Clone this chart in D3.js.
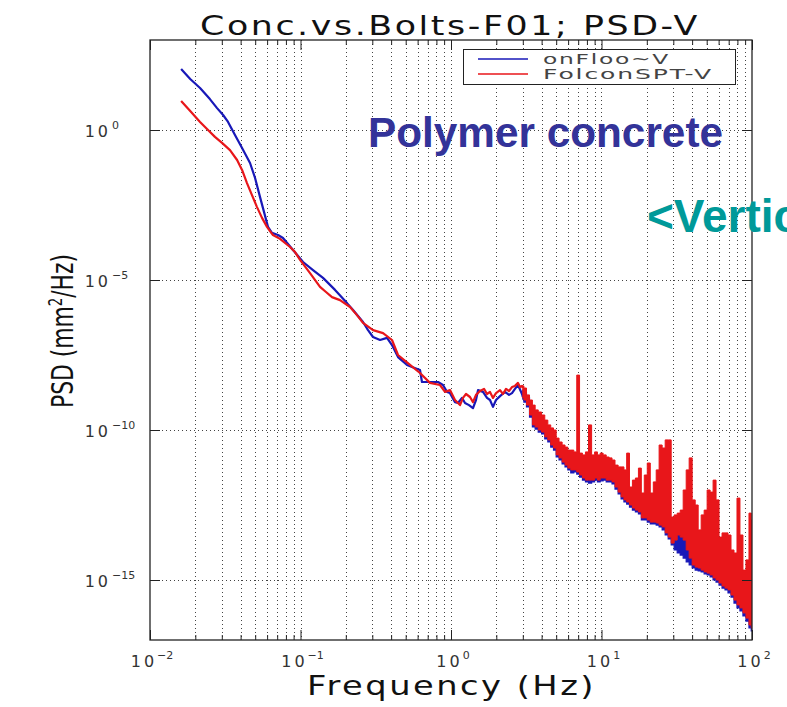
<!DOCTYPE html>
<html><head><meta charset="utf-8">
<script src="https://cdn.jsdelivr.net/npm/d3@7"></script>
<style>body{margin:0;background:#fff;} svg{display:block}</style>
</head><body>
<svg id="chart" width="787" height="707"></svg>
<script>
const titleText = "Conc.vs.Bolts-F01; PSD-V";
const xLabelText = "Frequency (Hz)";
const seriesNames = ["onFloo~V", "FolconSPT-V"];
const seriesColors = ["#1818b8", "#e8161a"];
const xTickExps = [-2, -1, 0, 1, 2];
const yTickExps = [0, -5, -10, -15];

// smooth low-frequency part (Hz, log10 PSD)
const blueFreq = [0.0161,0.0185,0.0215,0.0250,0.0279,0.0306,0.0330,0.0367,0.0409,0.0462,0.0499,0.0538,0.0572,0.0608,0.0646,0.0709,0.0765,0.0826,0.0892,0.0963,0.1040,0.1211,0.1411,0.1696,0.2038,0.2234,0.2602,0.2810,0.3033,0.3376,0.3757,0.4055,0.4446,0.5103,0.5508,0.6223,0.6414,0.7250,0.8197,0.8848,0.9406,0.9848,1.063,1.113,1.183,1.239,1.317,1.400,1.466,1.512,1.632,1.735,1.816,1.901,1.991,2.117,2.285,2.429,2.543,2.662,2.788,2.963,3.0];
const bluePsdExp = [2.03,1.70,1.40,1.03,0.73,0.50,0.27,-0.17,-0.60,-1.10,-1.60,-2.23,-2.73,-3.23,-3.43,-3.50,-3.60,-3.80,-4.00,-4.20,-4.40,-4.67,-4.93,-5.33,-5.77,-6.00,-6.40,-6.67,-6.90,-7.00,-6.93,-7.17,-7.57,-7.83,-7.90,-8.00,-8.40,-8.40,-8.40,-8.50,-8.73,-8.77,-9.07,-9.10,-8.93,-9.10,-9.17,-9.27,-9.00,-8.67,-8.73,-8.93,-9.00,-9.23,-9.00,-8.87,-8.73,-8.83,-8.77,-8.63,-8.50,-8.80,-8.90];
const redFreq = [0.0161,0.0185,0.0215,0.0243,0.0270,0.0301,0.0340,0.0379,0.0409,0.0441,0.0476,0.0514,0.0555,0.0599,0.0627,0.0656,0.0731,0.0852,0.0920,0.0993,0.1157,0.1348,0.1477,0.1619,0.1830,0.2134,0.2373,0.2602,0.3033,0.3535,0.4055,0.4446,0.5343,0.6223,0.7250,0.8450,0.9123,0.9848,1.063,1.148,1.201,1.258,1.337,1.400,1.466,1.559,1.657,1.735,1.816,1.901,1.991,2.117,2.216,2.320,2.429,2.543,2.662,2.788,2.873,2.963,3.0];
const redPsdExp = [0.97,0.63,0.27,0,-0.23,-0.43,-0.67,-1.00,-1.33,-1.77,-2.17,-2.57,-2.93,-3.23,-3.37,-3.50,-3.63,-3.90,-4.07,-4.33,-4.77,-5.23,-5.40,-5.57,-5.67,-5.90,-6.17,-6.43,-6.67,-6.77,-7.00,-7.50,-7.83,-8.10,-8.43,-8.50,-8.73,-8.67,-9.00,-9.17,-8.93,-8.80,-8.90,-9.07,-8.83,-8.70,-8.63,-8.80,-8.73,-8.93,-8.77,-8.67,-8.80,-8.63,-8.70,-8.57,-8.53,-8.43,-8.57,-8.53,-8.60];

// dense, noisy high-frequency part: min/max envelope per frequency bin (log10 PSD)
const bandFreq = [3.0,3.1,3.25,3.4,3.55,3.7,3.9,4.1,4.3,4.5,4.7,4.9,5.1,5.35,5.6,5.85,6.1,6.4,6.7,7.0,7.3,7.65,8.0,8.4,8.8,9.2,9.6,10,10.5,11,11.5,12,12.6,13.2,13.8,14.4,15,15.7,16.4,17.2,18,18.8,19.7,20.6,21.6,22.6,23.6,24.7,25.9,27.1,28.4,29.7,31.1,32.6,34.1,35.7,37.4,39.1,41,42.9,44.9,47,49.2,51.5,53.9,56.4,59,61.8,64.7,67.7,70.9,74.2,77.7,81.3,85.1,89.1,93.3,97.7,100];
const redBandHiExp = [-8.53,-8.60,-8.83,-9.00,-9.17,-9.33,-9.40,-9.50,-9.67,-9.83,
 -9.93,-10.00,-10.27,-10.40,-10.50,-10.57,-10.67,-10.67,-10.73,-8.17,
 -10.77,-10.83,-10.73,-9.83,-10.83,-10.73,-10.83,-10.77,-10.83,-10.90,
 -10.93,-11.00,-11.17,-11.23,-11.23,-11.33,-10.77,-11.90,-11.67,-11.60,
 -11.27,-12.10,-11.50,-11.10,-12.10,-11.73,-11.33,-10.50,-10.60,-10.33,
 -10.33,-12.90,-12.83,-12.77,-12.67,-12.00,-11.33,-10.93,-12.33,-12.50,
 -13.33,-12.83,-12.67,-12.00,-12.07,-11.67,-12.33,-13.57,-13.43,-13.43,
 -13.50,-14.00,-14.10,-12.27,-13.50,-14.67,-14.33,-12.77,-13.00];
const redBandLoExp = [-8.93,-9.00,-9.17,-9.50,-9.83,-9.90,-10.00,-10.07,-10.23,-10.33,
 -10.50,-10.60,-10.83,-10.93,-11.07,-11.17,-11.27,-11.33,-11.33,-11.40,
 -11.50,-11.60,-11.67,-11.67,-11.67,-11.60,-11.67,-11.60,-11.60,-11.67,
 -11.67,-11.73,-11.90,-12.07,-12.23,-12.33,-12.40,-12.50,-12.60,-12.67,
 -12.73,-12.93,-12.93,-13.00,-13.07,-13.07,-13.10,-13.17,-13.23,-13.43,
 -13.57,-13.77,-13.67,-13.50,-13.57,-13.67,-14.00,-14.27,-14.50,-14.57,
 -14.60,-14.67,-14.73,-14.77,-14.83,-14.93,-15.00,-15.10,-15.20,-15.27,
 -15.33,-15.50,-15.67,-15.83,-15.93,-16.10,-16.27,-16.50,-16.60];
const blueBandHiExp = [-8.67,-8.77,-8.93,-9.27,-9.60,-9.67,-9.77,-9.83,-10.00,-10.10,
 -10.27,-10.37,-10.60,-10.70,-10.83,-10.93,-11.03,-11.13,-11.10,-11.17,
 -11.27,-11.37,-11.43,-11.47,-11.43,-11.37,-11.43,-11.40,-11.37,-11.43,
 -11.43,-11.50,-11.67,-11.83,-12.00,-12.10,-12.17,-12.27,-12.37,-12.43,
 -12.50,-12.70,-12.70,-12.77,-12.83,-12.83,-12.87,-12.93,-13.03,-13.20,
 -13.33,-13.53,-13.47,-13.43,-13.50,-13.57,-13.73,-13.97,-14.30,-14.37,
 -14.40,-14.43,-14.50,-14.53,-14.60,-14.70,-14.77,-14.87,-14.97,-15.03,
 -15.13,-15.27,-15.47,-15.63,-15.73,-15.90,-16.07,-16.30,-16.40];
const blueBandLoExp = [-8.97,-9.07,-9.23,-9.57,-9.90,-9.97,-10.07,-10.13,-10.30,-10.40,
 -10.57,-10.67,-10.90,-11.00,-11.13,-11.23,-11.33,-11.43,-11.40,-11.47,
 -11.57,-11.67,-11.73,-11.77,-11.73,-11.67,-11.73,-11.70,-11.67,-11.73,
 -11.73,-11.80,-11.97,-12.13,-12.30,-12.40,-12.47,-12.57,-12.67,-12.73,
 -12.80,-13.00,-13.00,-13.07,-13.13,-13.13,-13.17,-13.23,-13.33,-13.50,
 -13.63,-13.83,-14.00,-14.10,-14.17,-14.27,-14.40,-14.50,-14.60,-14.67,
 -14.70,-14.73,-14.80,-14.83,-14.90,-15.00,-15.07,-15.17,-15.27,-15.33,
 -15.43,-15.57,-15.77,-15.93,-16.03,-16.20,-16.37,-16.60,-16.70];

const svg = d3.select("#chart");
const L = 150, R = 752, T = 40, B = 640;
const x = d3.scaleLog().domain([1e-2, 1e2]).range([L, R]);
const y = d3.scaleLog().domain([1e-17, 1e3]).range([B, T]);
const P = e => Math.pow(10, e);

svg.append("rect").attr("width", 787).attr("height", 707).attr("fill", "#fff");

// grid
const gridX = x.ticks().filter(v => v > 1e-2 * 1.001 && v < 1e2 * 0.999);
svg.append("g").selectAll("line").data(gridX).join("line")
  .attr("x1", d => Math.round(x(d)) + 0.5).attr("x2", d => Math.round(x(d)) + 0.5)
  .attr("y1", T).attr("y2", B)
  .attr("stroke", "#444").attr("stroke-width", 1).attr("stroke-dasharray", "1,3");
svg.append("g").selectAll("line").data(yTickExps).join("line")
  .attr("x1", L).attr("x2", R)
  .attr("y1", d => Math.round(y(P(d))) + 0.5).attr("y2", d => Math.round(y(P(d))) + 0.5)
  .attr("stroke", "#444").attr("stroke-width", 1).attr("stroke-dasharray", "1,3");

// data
svg.append("defs").append("clipPath").attr("id", "clip")
  .append("rect").attr("x", L).attr("y", T).attr("width", R - L).attr("height", B - T);
const plot = svg.append("g").attr("clip-path", "url(#clip)");

const line = d3.line().x(d => x(d[0])).y(d => y(P(d[1])));
const area = d3.area().curve(d3.curveStep)
  .x(d => x(d[0])).y0(d => y(P(d[1]))).y1(d => y(P(d[2])));

const blueLine = blueFreq.map((f, i) => [f, bluePsdExp[i]]);
const redLine = redFreq.map((f, i) => [f, redPsdExp[i]]);
const blueBand = bandFreq.map((f, i) => [f, blueBandLoExp[i], blueBandHiExp[i]]);
const redBand = bandFreq.map((f, i) => [f, redBandLoExp[i], redBandHiExp[i]]);

plot.append("path").datum(blueLine).attr("d", line)
  .attr("fill", "none").attr("stroke", seriesColors[0]).attr("stroke-width", 2.2).attr("stroke-linejoin", "round");
plot.append("path").datum(blueBand).attr("d", area)
  .attr("fill", seriesColors[0]).attr("stroke", seriesColors[0]).attr("stroke-width", 1.2);
plot.append("path").datum(redLine).attr("d", line)
  .attr("fill", "none").attr("stroke", seriesColors[1]).attr("stroke-width", 2.2).attr("stroke-linejoin", "round");
plot.append("path").datum(redBand).attr("d", area)
  .attr("fill", seriesColors[1]).attr("stroke", seriesColors[1]).attr("stroke-width", 1);

// axes / ticks
const majorX = xTickExps.map(P);
const minorX = gridX.filter(v => !majorX.some(m => Math.abs(m - v) / v < 1e-6));
const axisColor = "#222";
function tickStyle(g) { g.select(".domain").remove(); g.selectAll("line").attr("stroke", axisColor); g.selectAll("text").remove(); }
svg.append("g").attr("transform", `translate(0,${B})`)
  .call(d3.axisBottom(x).tickValues(majorX).tickSizeInner(-10).tickSizeOuter(0)).call(tickStyle);
svg.append("g").attr("transform", `translate(0,${B})`)
  .call(d3.axisBottom(x).tickValues(minorX).tickSizeInner(-5).tickSizeOuter(0)).call(tickStyle);
svg.append("g").attr("transform", `translate(0,${T})`)
  .call(d3.axisTop(x).tickValues(majorX).tickSizeInner(-10).tickSizeOuter(0)).call(tickStyle);
svg.append("g").attr("transform", `translate(0,${T})`)
  .call(d3.axisTop(x).tickValues(minorX).tickSizeInner(-5).tickSizeOuter(0)).call(tickStyle);
svg.append("g").attr("transform", `translate(${L},0)`)
  .call(d3.axisLeft(y).tickValues(yTickExps.map(P)).tickSizeInner(-10).tickSizeOuter(0)).call(tickStyle);
svg.append("g").attr("transform", `translate(${R},0)`)
  .call(d3.axisRight(y).tickValues(yTickExps.map(P)).tickSizeInner(-10).tickSizeOuter(0)).call(tickStyle);

svg.append("rect").attr("x", L).attr("y", T).attr("width", R - L).attr("height", B - T)
  .attr("fill", "none").attr("stroke", axisColor).attr("stroke-width", 1.3);

const tickFont = "DejaVu Sans, sans-serif";
// y tick labels
const yl = svg.append("g").attr("fill", "#333").attr("font-family", tickFont);
yTickExps.forEach(e => {
  const yy = y(P(e));
  yl.append("text").attr("x", 111).attr("y", yy + 7).attr("text-anchor", "end")
    .attr("font-size", 16).attr("letter-spacing", 3).text("10");
  yl.append("text").attr("x", 112).attr("y", yy - 1).attr("font-size", 11).text(e === 0 ? "0" : "\u2212" + Math.abs(e));
});
// x tick labels
const xl = svg.append("g").attr("fill", "#333").attr("font-family", tickFont);
xTickExps.forEach(e => {
  const t = xl.append("text").attr("x", x(P(e)) + 2).attr("y", 667).attr("text-anchor", "middle").attr("font-size", 16);
  t.append("tspan").attr("letter-spacing", 3).text("10");
  t.append("tspan").attr("dy", -8).attr("font-size", 11).text(e < 0 ? "\u2212" + Math.abs(e) : String(e));
});

// titles
svg.append("text").attr("x", 200).attr("y", 35).attr("font-family", tickFont).attr("font-size", 27)
  .attr("letter-spacing", 2).attr("fill", "#111").attr("textLength", 500).attr("lengthAdjust", "spacingAndGlyphs").text(titleText);
svg.append("text").attr("x", 307).attr("y", 695).attr("font-family", tickFont).attr("font-size", 27)
  .attr("letter-spacing", 2).attr("fill", "#111").attr("textLength", 289).attr("lengthAdjust", "spacingAndGlyphs").text(xLabelText);
const yt = svg.append("text").attr("transform", "translate(73,331) rotate(-90)").attr("text-anchor", "middle")
  .attr("font-family", "Liberation Sans Narrow, DejaVu Sans Condensed, sans-serif").attr("font-size", 31).attr("fill", "#111")
  .attr("textLength", 154).attr("lengthAdjust", "spacingAndGlyphs");
yt.append("tspan").text("PSD (mm");
yt.append("tspan").attr("dy", -11).attr("font-size", 19).text("2");
yt.append("tspan").attr("dy", 11).text("/Hz)");

// legend
const lg = svg.append("g");
lg.append("rect").attr("x", 463.5).attr("y", 49.5).attr("width", 272).attr("height", 35)
  .attr("fill", "#fff").attr("stroke", "#222").attr("stroke-width", 1);
const legTextLen = [127, 170];
seriesNames.forEach((n, i) => {
  const yy = 59 + i * 15;
  lg.append("line").attr("x1", 478).attr("x2", 528).attr("y1", yy).attr("y2", yy)
    .attr("stroke", seriesColors[i]).attr("stroke-width", 1.5);
  lg.append("text").attr("x", 543).attr("y", yy + 5).attr("font-family", tickFont).attr("font-size", 13.5)
    .attr("letter-spacing", 1).attr("fill", "#444").attr("textLength", legTextLen[i]).attr("lengthAdjust", "spacingAndGlyphs").text(n);
});

// annotations
svg.append("text").attr("x", 368).attr("y", 147).attr("font-family", "Liberation Sans, Arial, sans-serif")
  .attr("font-weight", "bold").attr("font-size", 42).attr("fill", "#333399")
  .attr("textLength", 355).attr("lengthAdjust", "spacingAndGlyphs").text("Polymer concrete");
svg.append("text").attr("x", 647).attr("y", 232).attr("font-family", "Liberation Sans, Arial, sans-serif")
  .attr("font-weight", "bold").attr("font-size", 46).attr("fill", "#009999").text("<Vertical>");
</script>
</body></html>
